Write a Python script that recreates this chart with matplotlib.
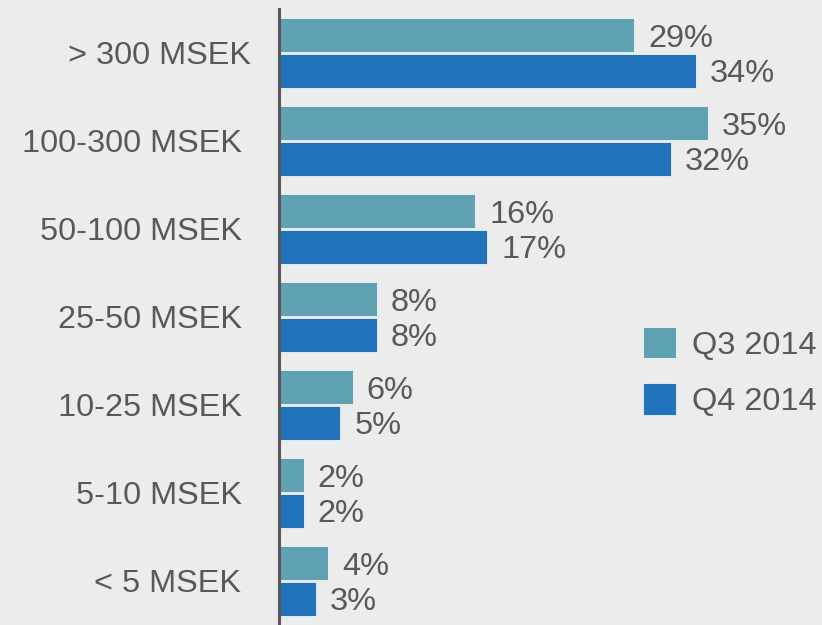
import numpy as np
import matplotlib
matplotlib.use("Agg")
import matplotlib.pyplot as plt
from matplotlib.transforms import ScaledTranslation

plt.rcParams['font.family'] = ['Liberation Sans', 'DejaVu Sans']

# data
categories = ['> 300 MSEK', '100-300 MSEK', '50-100 MSEK', '25-50 MSEK',
              '10-25 MSEK', '5-10 MSEK', '< 5 MSEK']
q3_2014 = [29, 35, 16, 8, 6, 2, 4]
q4_2014 = [34, 32, 17, 8, 5, 2, 3]
series_names = ['Q3 2014', 'Q4 2014']

bg = '#ececec'
txt = '#595959'
c_q3 = '#5fa2b4'
c_q4 = '#2173bb'
fs = 23.4

fig = plt.figure(figsize=(8.22, 6.25), dpi=100, facecolor=bg)
ax = fig.add_axes([279 / 822, 0, 1 - 279 / 822, 616 / 625])
ax.set_facecolor(bg)

y = np.arange(len(categories))
h = 0.385
off = 0.2
b1 = ax.barh(y - off, q3_2014, height=h, color=c_q3, edgecolor='#f2f2f2', linewidth=0.6, label=series_names[0])
b2 = ax.barh(y + off, q4_2014, height=h, color=c_q4, edgecolor='#f2f2f2', linewidth=0.6, label=series_names[1])

for bars, vals in ((b1, q3_2014), (b2, q4_2014)):
    anns = ax.bar_label(bars, labels=[f'{v}%' for v in vals], padding=10,
                        fontsize=fs, color=txt)
    for a in anns:
        a.xyann = (10, -2.5)  # sit a touch below bar centre like the original

ax.set_xlim(0, 44.3)
ax.set_ylim(len(categories) - 0.5, -0.5)
ax.set_yticks(y)
ax.set_yticklabels(categories, fontsize=fs, color=txt)
ax.tick_params(axis='y', length=0, pad=27)
ax.set_xticks([])
for s in ('top', 'right', 'bottom'):
    ax.spines[s].set_visible(False)
ax.spines['left'].set_color(txt)
ax.spines['left'].set_linewidth(2.2)

# first label sits a little further right in the original
first = ax.get_yticklabels()[0]
first.set_transform(first.get_transform() + ScaledTranslation(9 / 100, 0, fig.dpi_scale_trans))

leg = ax.legend(loc='upper left', bbox_to_anchor=(643 / 822, 1 - 327 / 625),
                bbox_transform=fig.transFigure, frameon=False, fontsize=fs,
                handlelength=1.02, handleheight=1.1, handletextpad=0.5,
                labelspacing=0.7, borderpad=0, borderaxespad=0)
for t in leg.get_texts():
    t.set_color(txt)

fig.savefig('out.png', dpi=100, facecolor=bg)
